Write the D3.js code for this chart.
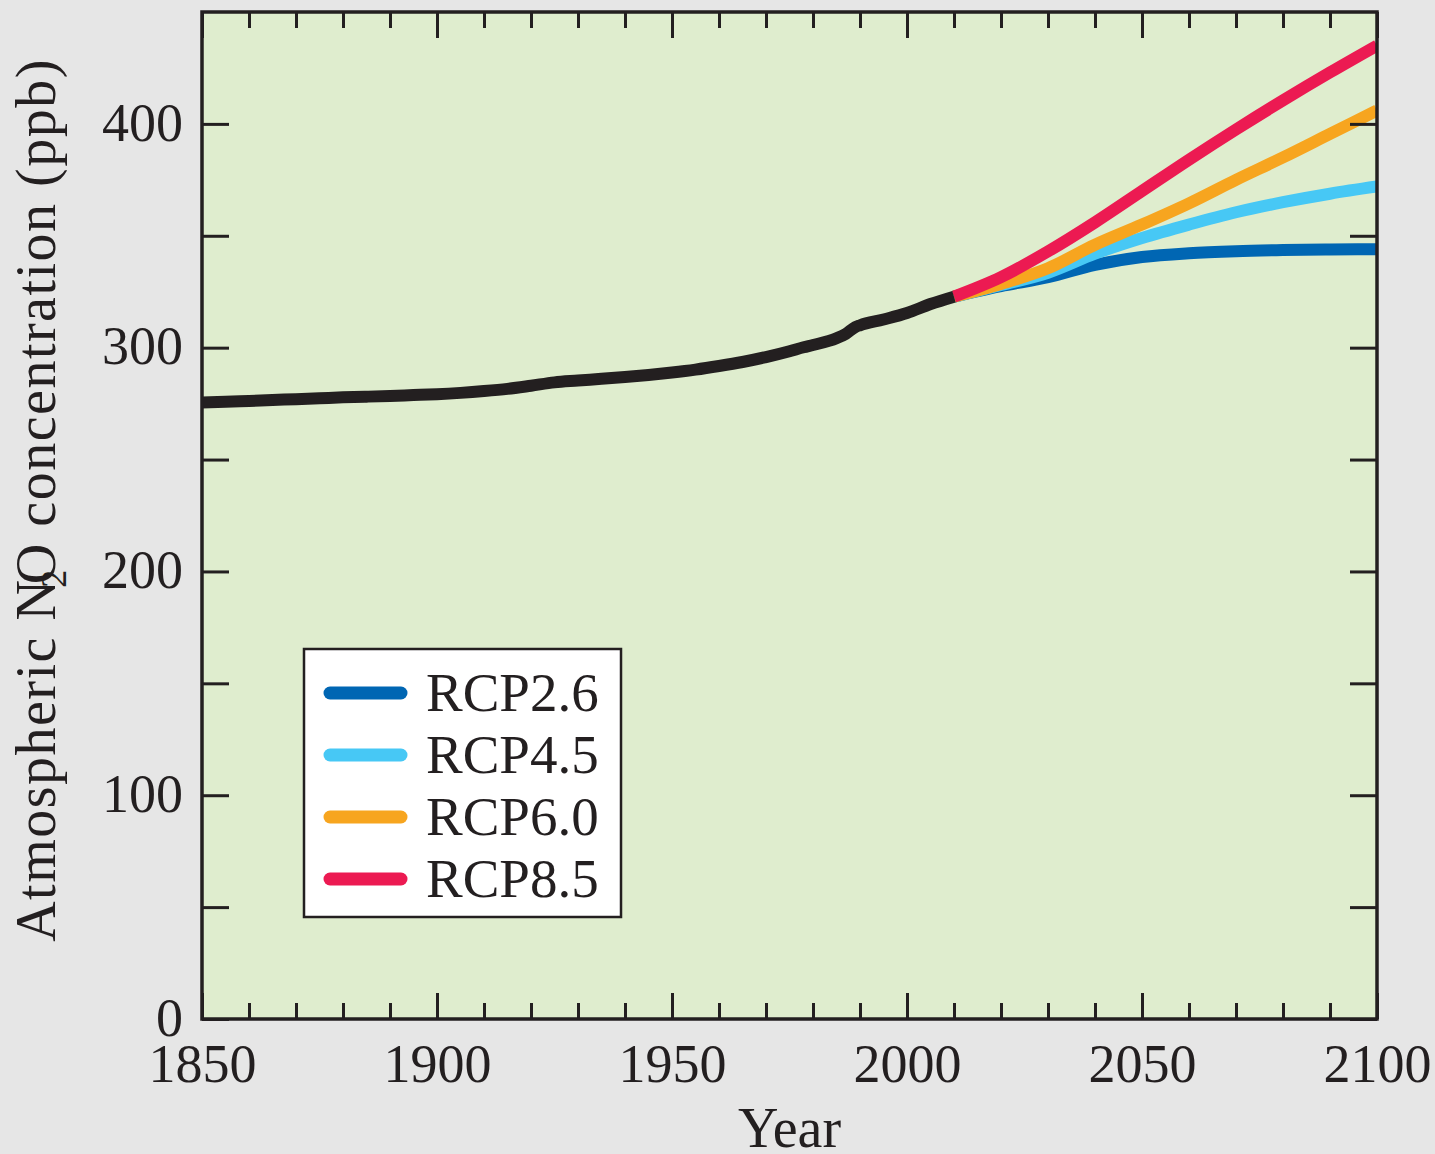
<!DOCTYPE html>
<html>
<head>
<meta charset="utf-8">
<script src="https://cdn.jsdelivr.net/npm/d3@7"></script>
<style>
  html, body { margin: 0; padding: 0; background: #e6e6e6; }
  svg { display: block; }
  text { font-family: "Liberation Serif", "Times New Roman", serif; fill: #231f20; }
</style>
</head>
<body>
<svg id="chart" width="1435" height="1154"></svg>
<script>
// Historical atmospheric N2O (ppb)
const histYears = [1850,1855,1860,1865,1870,1875,1880,1885,1890,1895,1900,1905,1910,1915,1920,1925,1930,1935,1940,1945,1950,1955,1960,1965,1970,1975,1978,1980,1985,1987,1989,1990,1995,2000,2005,2010];
const histValues = [275.5,275.8,276.2,276.6,277.0,277.4,277.8,278.1,278.4,278.8,279.2,279.8,280.6,281.6,283.0,284.5,285.3,286.1,286.9,287.8,288.9,290.2,291.8,293.6,295.8,298.4,300.2,301.2,304.2,306.2,309.2,310.0,312.6,315.5,319.5,322.8];

// Scenario projections (ppb), decadal from 2010
const projYears = [2010,2020,2030,2040,2050,2060,2070,2080,2090,2100];
const rcp26 = [322.8,327.5,331.5,337.0,340.5,342.2,343.1,343.6,343.9,344.0];
const rcp45 = [322.8,328.0,333.5,342.0,349.0,355.0,360.5,365.0,368.8,372.0];
const rcp60 = [322.8,328.5,335.5,346.0,355.0,364.5,375.0,385.0,395.5,406.0];
const rcp85 = [322.8,331.5,343.0,356.0,370.0,384.0,397.5,410.5,423.0,435.0];

const seriesNames = ["RCP2.6","RCP4.5","RCP6.0","RCP8.5"];
const seriesValues = [rcp26, rcp45, rcp60, rcp85];
const seriesColors = ["#0066b3","#47c8f5","#f7a51f","#ec1a52"];

const xMajorTicks = [1850,1900,1950,2000,2050,2100];
const yTicks = [0,50,100,150,200,250,300,350,400];
const yLabelTicks = [0,100,200,300,400];

const svg = d3.select("#chart");
const L = 202, R = 1377, T = 12, B = 1019;
const x = d3.scaleLinear().domain([1850, 2100]).range([L, R]);
const y = d3.scaleLinear().domain([0, 450]).range([B, T]);
const ink = "#231f20";
const fontSize = 54;

// plot background
svg.append("rect").attr("x", L).attr("y", T).attr("width", R - L).attr("height", B - T)
  .attr("fill", "#dfedce");

svg.append("clipPath").attr("id", "plotClip")
  .append("rect").attr("x", L).attr("y", T).attr("width", R - L).attr("height", B - T);

const line = d3.line().x(d => x(d[0])).y(d => y(d[1])).curve(d3.curveMonotoneX);
const plot = svg.append("g").attr("clip-path", "url(#plotClip)");

// scenario lines
seriesValues.forEach((vals, i) => {
  plot.append("path")
    .datum(projYears.map((yr, j) => [yr, vals[j]]))
    .attr("d", line)
    .attr("fill", "none")
    .attr("stroke", seriesColors[i])
    .attr("stroke-width", 12)
    .attr("stroke-linecap", "butt");
});

// historical line
plot.append("path")
  .datum(histYears.map((yr, j) => [yr, histValues[j]]))
  .attr("d", line)
  .attr("fill", "none")
  .attr("stroke", ink)
  .attr("stroke-width", 12)
  .attr("stroke-linecap", "butt")
  .attr("stroke-linejoin", "round");

// axes with inward ticks
const minorYears = d3.range(1850, 2101, 10).filter(v => v % 50 !== 0);
function styleAxis(g) {
  g.select(".domain").remove();
  g.selectAll(".tick line").attr("stroke", ink).attr("stroke-width", 3);
}
svg.append("g").attr("transform", `translate(0,${B})`)
  .call(d3.axisBottom(x).tickValues(minorYears).tickSize(-16).tickFormat(""))
  .call(styleAxis);
const xAxis = svg.append("g").attr("transform", `translate(0,${B})`)
  .call(d3.axisBottom(x).tickValues(xMajorTicks).tickSize(-26).tickFormat(d3.format("d")))
  .call(styleAxis);
xAxis.selectAll(".tick text")
  .attr("y", 63).attr("dy", 0)
  .attr("font-size", fontSize).attr("font-family", "Liberation Serif").attr("fill", ink);

svg.append("g").attr("transform", `translate(0,${T})`)
  .call(d3.axisTop(x).tickValues(minorYears).tickSize(-16).tickFormat(""))
  .call(styleAxis);
svg.append("g").attr("transform", `translate(0,${T})`)
  .call(d3.axisTop(x).tickValues(xMajorTicks).tickSize(-26).tickFormat(""))
  .call(styleAxis);

const yAxis = svg.append("g").attr("transform", `translate(${L},0)`)
  .call(d3.axisLeft(y).tickValues(yTicks).tickSize(-27)
    .tickFormat(d => yLabelTicks.includes(d) ? d3.format("d")(d) : ""))
  .call(styleAxis);
yAxis.selectAll(".tick text")
  .attr("x", -19).attr("dy", "0.3em")
  .attr("font-size", fontSize).attr("font-family", "Liberation Serif").attr("fill", ink);

svg.append("g").attr("transform", `translate(${R},0)`)
  .call(d3.axisRight(y).tickValues(yTicks).tickSize(-27).tickFormat(""))
  .call(styleAxis);

// frame
svg.append("rect").attr("x", L).attr("y", T).attr("width", R - L).attr("height", B - T)
  .attr("fill", "none").attr("stroke", ink).attr("stroke-width", 3.5);

// axis titles
svg.append("text")
  .attr("x", (L + R) / 2).attr("y", 1147)
  .attr("text-anchor", "middle")
  .attr("font-size", 56)
  .text("Year");

const yTitle = svg.append("text")
  .attr("transform", "translate(55,500) rotate(-90)")
  .attr("text-anchor", "middle")
  .attr("font-size", 56)
  .attr("letter-spacing", 1.5);
yTitle.append("tspan").text("Atmospheric N");
yTitle.append("tspan").attr("font-size", 36).attr("dx", -9).attr("dy", 11).text("2");
yTitle.append("tspan").attr("dx", -16).attr("dy", -11).text("O concentration (ppb)");

// legend
const lg = svg.append("g");
lg.append("rect").attr("x", 304).attr("y", 649).attr("width", 317).attr("height", 268)
  .attr("fill", "#ffffff").attr("stroke", ink).attr("stroke-width", 2.5);
seriesNames.forEach((name, i) => {
  const cy = 693 + i * 62;
  lg.append("line").attr("x1", 330).attr("x2", 401).attr("y1", cy).attr("y2", cy)
    .attr("stroke", seriesColors[i]).attr("stroke-width", 13).attr("stroke-linecap", "round");
  lg.append("text").attr("x", 426).attr("y", cy + 18)
    .attr("font-size", 55).text(name);
});
</script>
</body>
</html>
